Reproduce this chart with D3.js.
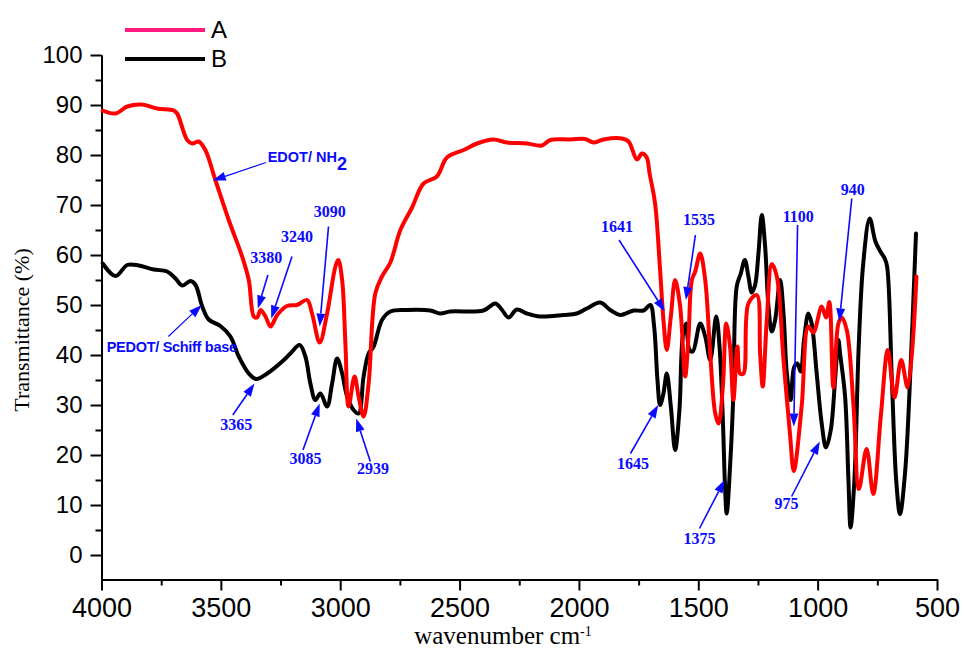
<!DOCTYPE html>
<html>
<head>
<meta charset="utf-8">
<script src="https://cdn.jsdelivr.net/npm/d3@7/dist/d3.min.js"></script>
<style>
  html, body { margin: 0; padding: 0; background: #fff; }
  svg { display: block; }
</style>
</head>
<body>
<svg id="chart" width="964" height="652"></svg>
<script>
// FTIR spectra: A = EDOT/ NH2, B = PEDOT/ Schiff base
const aWavenumber = [3995,3941,3892,3830,3767,3697,3683,3641,3620,3593,3565,3523,3467,3411,3383,3362,3348,3334,3313,3292,3264,3223,3181,3139,3118,3086,3055,3020,3008,2992,2978,2965,2940,2923,2902,2881,2853,2825,2790,2748,2699,2651,2595,2553,2483,2427,2358,2302,2218,2155,2120,2037,1974,1939,1897,1820,1792,1757,1736,1716,1704,1681,1660,1646,1632,1615,1597,1576,1555,1541,1527,1513,1492,1471,1450,1429,1415,1397,1383,1367,1353,1336,1325,1311,1290,1255,1241,1230,1213,1192,1171,1143,1115,1100,1067,1039,1018,983,965,951,934,913,899,878,850,827,795,767,735,706,678,650,623,586];
const aTransmittance = [88.9,88.3,89.7,90.1,89.3,88.9,88.3,83,82.3,82.7,81,75,67,59.7,55,47.7,47.5,49,47.7,45.7,48,49.8,50,51,48.3,42.5,48.3,57.7,59,55,42,29.7,35.7,31.7,27.7,34.3,52.3,55.7,58.5,65,69.5,74.3,75.7,79.5,81,82.3,83.1,82.5,82.3,81.9,83,83.1,83.2,82.5,83.1,83.3,82.7,79.1,80.3,79.5,76.3,70.3,57,47,41,47.7,55,49.7,35.7,43.7,55,56.7,60.3,55,40.3,28.3,26.3,33.7,46.3,41.7,31,41.7,36.3,36.3,50.3,52,40.3,33.7,47,58.2,55.7,39,23.7,16.8,29.7,45.7,44.5,49.7,47.5,50.6,33.5,46.3,47.5,45,30,13.2,21.2,12.2,28,41,31.5,39,33.5,55.7];

const bWavenumber = [3995,3941,3892,3844,3781,3725,3690,3662,3627,3606,3578,3551,3502,3460,3425,3383,3352,3306,3243,3209,3170,3146,3125,3104,3083,3055,3034,3013,2992,2971,2944,2923,2902,2881,2860,2825,2790,2720,2623,2581,2539,2400,2350,2322,2295,2260,2218,2162,2065,2009,1967,1911,1869,1827,1771,1729,1701,1685,1671,1660,1646,1632,1615,1597,1579,1565,1551,1537,1523,1492,1471,1450,1425,1411,1397,1388,1381,1364,1353,1339,1322,1305,1290,1276,1262,1248,1234,1220,1206,1192,1178,1157,1143,1129,1113,1099,1085,1071,1057,1039,1025,1004,983,965,945,927,913,906,885,871,862,846,828,809,782,758,737,719,709,689,671,655,634,613,588];
const bTransmittance = [58.3,55.8,58,57.9,57.1,56.7,55.3,53.9,54.8,54,49.7,47.1,45.8,43.7,39.7,36.3,35.2,36.3,38.7,40.3,42,39.7,34.3,31,32.3,29.7,34.3,39.3,36.3,31.7,29,28.3,35.7,40.3,41.7,47,48.7,49,48.9,48.3,48.7,48.9,50.3,49,47.5,49.1,48.3,47.7,48,48.3,49.3,50.5,49,48,48.9,48.9,50,45.7,35,30,32.3,36.3,29.7,21,29,43.7,46.3,41,40.7,46.3,43.7,39,47.7,41.7,27,13.7,8.3,20.3,32.3,53.7,56.3,59,55.7,52.5,54,60.3,68,61.7,49.7,44.7,47,55,48.3,36.3,31,37.5,38.3,36.7,43,48.3,46.3,36.3,26.3,21.5,25,35,43,40.3,31.7,15,5.5,15,41.7,58.3,67.3,62.7,60.7,59.3,57.7,35,15,8.2,16.3,35,64.3];

const seriesNames = ["A", "B"];
const xTicks = [4000, 3500, 3000, 2500, 2000, 1500, 1000, 500];
const xMinorTicks = [3750, 3250, 2750, 2250, 1750, 1250, 750];
const yTicks = [0, 10, 20, 30, 40, 50, 60, 70, 80, 90, 100];
const yMinorTicks = [5, 15, 25, 35, 45, 55, 65, 75, 85, 95];

// Band assignments: label, arrow tip (wavenumber, %T), arrow tail, text anchor
const bandLabels = ["3380", "3240", "3090", "3365", "3085", "2939", "1641", "1535", "1645", "1375", "1100", "975", "940"];
const bandTip  = [[3345,49.3],[3289,47.3],[3086,45.7],[3359,34.3],[3086,30.3],[2933,27.3],[1640,48.7],[1552,51],[1668,30],[1390,15],[1100,25.7],[991,22.7],[909,46.7]];
const bandTail = [[3303,56],[3202,59.7],[3049,65.7],[3450,28],[3156,21],[2874,18.7],[1832,63],[1512,64],[1784,20.3],[1495,5.3],[1084,66],[1109,11.7],[857,71.3]];
const bandText = [[3310,58.4],[3181,62.7],[3044,67.7],[3436,25],[3145,18.3],[2863,16.3],[1840,64.7],[1497,66],[1773,17.3],[1495,2.2],[1081,66.7],[1130,9.3],[853,72]];

const svg = d3.select("#chart");

const x = d3.scaleLinear().domain([4000, 500]).range([101.5, 937]);
const y = d3.scaleLinear().domain([-4.9, 100]).range([579.5, 55]);

const blue = "#0a0aff";

// axes
const axisStyle = size => g => {
  g.selectAll(".domain").attr("stroke", "#000").attr("stroke-width", 2);
  g.selectAll(".tick line").attr("stroke", "#000").attr("stroke-width", 2);
  g.selectAll(".tick text").attr("fill", "#000")
    .style("font-family", "'Liberation Sans', Arial, sans-serif")
    .style("font-size", size + "px");
};

svg.append("g")
  .attr("transform", `translate(0,${y(-4.9)})`)
  .call(d3.axisBottom(x).tickValues(xMinorTicks).tickSize(6).tickSizeOuter(0).tickFormat(""))
  .call(axisStyle(27));
svg.append("g")
  .attr("transform", `translate(0,${y(-4.9)})`)
  .call(d3.axisBottom(x).tickValues(xTicks).tickSize(11).tickSizeOuter(0).tickPadding(7).tickFormat(d3.format("d")))
  .call(axisStyle(27));

svg.append("g")
  .attr("transform", `translate(${x(4000)},0)`)
  .call(d3.axisLeft(y).tickValues(yMinorTicks).tickSize(6).tickSizeOuter(0).tickFormat(""))
  .call(axisStyle(24));
svg.append("g")
  .attr("transform", `translate(${x(4000)},0)`)
  .call(d3.axisLeft(y).tickValues(yTicks).tickSize(11).tickSizeOuter(0).tickPadding(8).tickFormat(d3.format("d")))
  .call(axisStyle(24));

// axis titles
svg.append("text")
  .attr("transform", `translate(29,${y(45)}) rotate(-90)`)
  .attr("text-anchor", "middle")
  .style("font-family", "'Liberation Serif', 'Times New Roman', serif")
  .style("font-size", "22px")
  .text("Transmittance (%)");

const xt = svg.append("text")
  .attr("x", 503).attr("y", 644)
  .attr("text-anchor", "middle")
  .style("font-family", "'Liberation Serif', 'Times New Roman', serif")
  .style("font-size", "25px");
xt.append("tspan").text("wavenumber cm");
xt.append("tspan").attr("dy", -8).style("font-size", "14px").text("-1");

// spectra
const line = d3.line()
  .x(d => x(d[0]))
  .y(d => y(d[1]))
  .curve(d3.curveCatmullRom.alpha(0.5));

const specB = bWavenumber.map((w, i) => [w, bTransmittance[i]]);
const specA = aWavenumber.map((w, i) => [w, aTransmittance[i]]);

svg.append("path").datum(specB)
  .attr("d", line).attr("fill", "none")
  .attr("stroke", "#000").attr("stroke-width", 4)
  .attr("stroke-linejoin", "round").attr("stroke-linecap", "round");
svg.append("path").datum(specA)
  .attr("d", line).attr("fill", "none")
  .attr("stroke", "#ff0000").attr("stroke-width", 4)
  .attr("stroke-linejoin", "round").attr("stroke-linecap", "round");

// legend
const legendColors = ["#ff1a80", "#000000"];
const legend = svg.append("g");
seriesNames.forEach((name, i) => {
  const ly = 30 + i * 29;
  legend.append("line")
    .attr("x1", 125).attr("x2", 205).attr("y1", ly).attr("y2", ly)
    .attr("stroke", legendColors[i]).attr("stroke-width", 4);
  legend.append("text")
    .attr("x", 211).attr("y", ly + 8)
    .style("font-family", "'Liberation Sans', Arial, sans-serif")
    .style("font-size", "24px")
    .text(name);
});

// arrows
function arrow(tail, tip, width, headLen, headWid) {
  const x1 = x(tail[0]), y1 = y(tail[1]), x2 = x(tip[0]), y2 = y(tip[1]);
  const a = Math.atan2(y2 - y1, x2 - x1);
  const bx = x2 - headLen * Math.cos(a), by = y2 - headLen * Math.sin(a);
  const px = -Math.sin(a) * headWid / 2, py = Math.cos(a) * headWid / 2;
  svg.append("line")
    .attr("x1", x1).attr("y1", y1).attr("x2", bx).attr("y2", by)
    .attr("stroke", blue).attr("stroke-width", width);
  svg.append("polygon")
    .attr("points", `${x2},${y2} ${bx + px},${by + py} ${bx - px},${by - py}`)
    .attr("fill", blue);
}

bandLabels.forEach((lab, i) => {
  arrow(bandTail[i], bandTip[i], 1.6, 13, 9);
  svg.append("text")
    .attr("x", x(bandText[i][0])).attr("y", y(bandText[i][1]))
    .attr("text-anchor", "middle")
    .attr("fill", blue)
    .style("font-family", "'Liberation Serif', 'Times New Roman', serif")
    .style("font-weight", "bold")
    .style("font-size", "16px")
    .text(lab);
});

// sample labels
arrow([3311, 78.5], [3534, 74.9], 1.2, 13, 9);
const t1 = svg.append("text")
  .attr("x", x(3304)).attr("y", y(78.7))
  .attr("fill", blue)
  .style("font-family", "'Liberation Sans', Arial, sans-serif")
  .style("font-weight", "bold")
  .style("font-size", "14.5px");
t1.append("tspan").text("EDOT/ NH");
t1.append("tspan").attr("dy", 8).style("font-size", "18px").text("2");

arrow([3720, 43.7], [3580, 50], 1.2, 13, 9);
svg.append("text")
  .attr("x", x(3978)).attr("y", y(40.7))
  .attr("fill", blue)
  .style("font-family", "'Liberation Sans', Arial, sans-serif")
  .style("font-weight", "bold")
  .style("font-size", "14.5px")
  .attr("letter-spacing", "-0.3")
  .text("PEDOT/ Schiff base");
</script>
</body>
</html>
